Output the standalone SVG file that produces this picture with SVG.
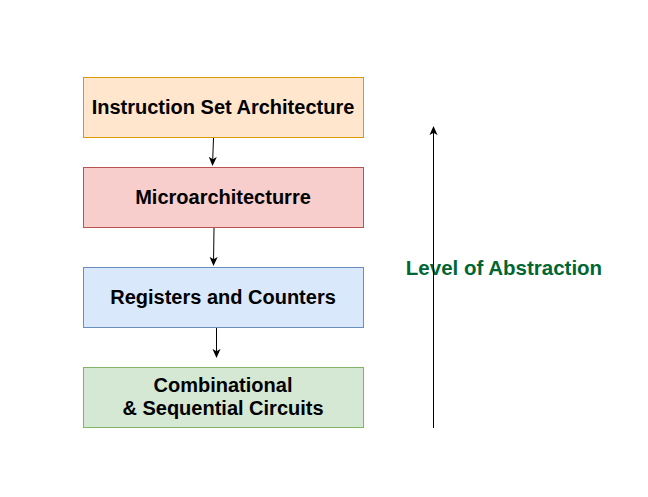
<svg xmlns="http://www.w3.org/2000/svg" width="648" height="497" viewBox="0 0 648 497">
<style>
.lbl{font-family:"Liberation Sans",Arial,sans-serif;font-weight:bold;font-size:20px;fill:#000;text-anchor:middle}
.edge{stroke:#000;stroke-width:1;fill:none}
</style>
<defs>
<marker id="ah" viewBox="0 0 10 10" refX="9" refY="5" markerWidth="9" markerHeight="9" orient="auto" markerUnits="userSpaceOnUse">
<path d="M0,0.5 L10,5 L0,9.5 L2.5,5 Z" fill="#000"/>
</marker>
</defs>
<rect width="648" height="497" fill="#fff"/>
<g id="isa">
<rect x="83.5" y="77.5" width="280" height="60" fill="#ffe6cc" stroke="#d79b00"/>
<text class="lbl" x="223" y="114">Instruction Set Architecture</text>
</g>
<g id="micro">
<rect x="83.5" y="167.5" width="280" height="60" fill="#f8cecc" stroke="#b85450"/>
<text class="lbl" x="223" y="204">Microarchitecturre</text>
</g>
<g id="regs">
<rect x="83.5" y="267.5" width="280" height="60" fill="#dae8fc" stroke="#6c8ebf"/>
<text class="lbl" x="223" y="304">Registers and Counters</text>
</g>
<g id="comb">
<rect x="83.5" y="367.5" width="280" height="60" fill="#d5e8d4" stroke="#82b366"/>
<text class="lbl" x="223" y="392">Combinational</text>
<text class="lbl" x="223" y="415">&amp; Sequential Circuits</text>
</g>
<g id="abstraction">
<text x="504" y="275" font-family="'Liberation Sans',Arial,sans-serif" font-weight="bold" font-size="20.5px" fill="#006633" text-anchor="middle">Level of Abstraction</text>
</g>
<g id="connectors">
<line class="edge" x1="213.5" y1="138" x2="212.5" y2="165" marker-end="url(#ah)"/>
<line class="edge" x1="214" y1="228" x2="213.5" y2="265" marker-end="url(#ah)"/>
<line class="edge" x1="216.5" y1="328" x2="216.5" y2="357" marker-end="url(#ah)"/>
<line class="edge" x1="433.5" y1="428" x2="433.5" y2="127" marker-end="url(#ah)"/>
</g>
</svg>
